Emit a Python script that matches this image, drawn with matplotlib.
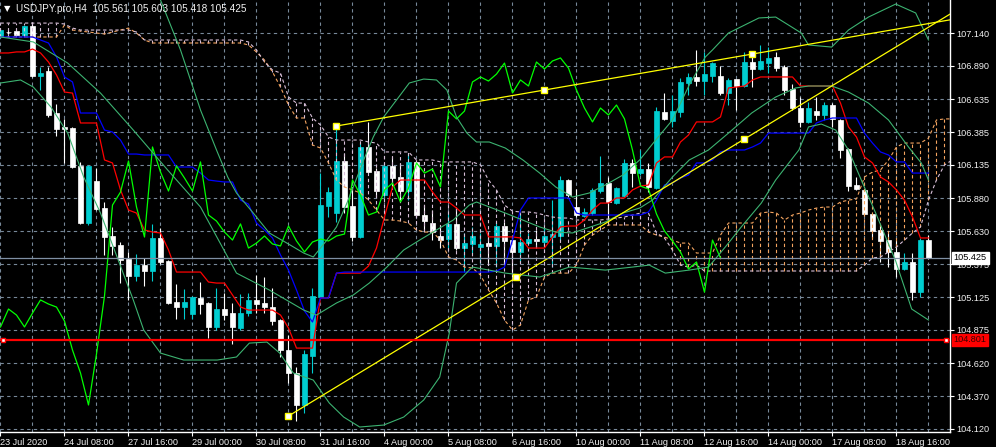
import numpy as np
import matplotlib
matplotlib.use("Agg")
import matplotlib.pyplot as plt
from matplotlib.transforms import blended_transform_factory

HEADER = "USDJPY.pro,H4  105.561 105.603 105.418 105.425"

# H4 candles, bar 0 = 23 Jul 2020 00:00
opens = [
    107.117, 107.148, 107.155, 107.125, 107.193, 106.812, 106.850, 106.530, 106.424, 106.416,
    106.126, 105.691, 106.011, 105.805, 105.592, 105.523, 105.416, 105.286, 105.370, 105.325,
    105.577, 105.401, 105.089, 105.050, 104.997, 105.119, 105.081, 104.898, 105.035, 105.004,
    104.890, 105.004, 105.104, 105.081, 105.050, 104.951, 104.722, 104.547, 104.303, 104.676,
    105.127, 105.820, 105.767, 106.164, 105.820, 105.584, 106.271, 106.088, 105.904, 106.126,
    106.042, 105.935, 106.157, 105.752, 105.691, 105.592, 105.569, 105.684, 105.500, 105.531,
    105.508, 105.538, 105.516, 105.668, 105.561, 105.470, 105.538, 105.569, 105.546, 105.584,
    105.592, 106.019, 105.813, 105.744, 105.767, 105.935, 105.996, 105.843, 105.897, 106.149,
    106.072, 106.103, 105.958, 106.538, 106.469, 106.538, 106.759, 106.805, 106.774, 106.812,
    106.812, 106.683, 106.789, 106.736, 106.919, 106.866, 106.911, 106.957, 106.881, 106.713,
    106.568, 106.462, 106.545, 106.515, 106.591, 106.477, 106.256, 105.981, 105.943, 105.760,
    105.638, 105.561, 105.470, 105.340, 105.394, 105.164, 105.561,
]
highs = [
    107.178, 107.163, 107.171, 107.201, 107.224, 106.881, 106.881, 106.599, 106.485, 106.424,
    106.157, 106.134, 106.111, 105.851, 105.661, 105.546, 105.470, 105.455, 105.424, 105.684,
    105.653, 105.409, 105.225, 105.187, 105.134, 105.241, 105.089, 105.195, 105.157, 105.081,
    105.149, 105.157, 105.294, 105.279, 105.195, 104.959, 104.837, 104.593, 104.722, 105.195,
    106.072, 105.966, 106.424, 106.225, 105.966, 106.301, 106.462, 106.111, 106.149, 106.195,
    106.149, 106.225, 106.172, 105.828, 105.790, 105.661, 105.775, 105.813, 105.615, 105.661,
    105.615, 105.615, 105.699, 105.699, 105.577, 105.767, 105.615, 105.638, 105.661, 105.866,
    106.049, 106.027, 105.950, 105.805, 105.958, 106.202, 106.042, 105.966, 106.179, 106.179,
    106.248, 106.149, 106.576, 106.683, 106.667, 106.797, 106.835, 107.011, 106.995, 106.919,
    106.889, 106.797, 106.789, 106.995, 106.980, 107.049, 107.033, 106.995, 106.896, 106.751,
    106.652, 106.614, 106.652, 106.614, 106.606, 106.485, 106.263, 106.042, 105.950, 105.760,
    105.676, 105.615, 105.561, 105.462, 105.462, 105.577, 105.603,
]
lows = [
    107.102, 107.133, 107.117, 107.120, 106.805, 106.705, 106.500, 106.354, 106.149, 106.111,
    105.684, 105.676, 105.790, 105.447, 105.447, 105.233, 105.104, 105.248, 105.210, 105.248,
    105.378, 105.073, 104.959, 104.959, 104.959, 104.997, 104.814, 104.875, 104.951, 104.767,
    104.875, 104.981, 105.004, 105.004, 104.913, 104.669, 104.470, 104.180, 104.242, 104.547,
    105.119, 105.737, 105.699, 105.767, 105.554, 105.577, 106.072, 105.889, 105.889, 105.966,
    105.866, 105.866, 105.737, 105.638, 105.561, 105.500, 105.500, 105.485, 105.317, 105.462,
    105.386, 105.386, 105.355, 105.386, 105.279, 105.394, 105.523, 105.508, 105.508, 105.355,
    105.561, 105.889, 105.737, 105.737, 105.752, 105.920, 105.699, 105.836, 105.889, 105.966,
    106.057, 105.927, 105.950, 106.477, 106.424, 106.500, 106.667, 106.736, 106.667, 106.767,
    106.667, 106.591, 106.553, 106.728, 106.728, 106.858, 106.835, 106.850, 106.667, 106.553,
    106.424, 106.454, 106.477, 106.477, 106.424, 106.187, 105.935, 105.943, 105.752, 105.577,
    105.394, 105.355, 105.279, 105.332, 105.104, 105.127, 105.418,
]
closes = [
    107.163, 107.148, 107.125, 107.193, 106.812, 106.835, 106.515, 106.408, 106.408, 106.118,
    105.691, 106.126, 105.798, 105.584, 105.516, 105.409, 105.286, 105.370, 105.325, 105.577,
    105.394, 105.081, 105.050, 105.089, 105.127, 105.073, 104.898, 105.035, 104.989, 104.898,
    105.004, 105.104, 105.073, 105.050, 104.943, 104.722, 104.547, 104.303, 104.692, 105.134,
    105.828, 105.927, 106.164, 105.813, 105.584, 106.271, 106.080, 105.935, 106.126, 106.034,
    105.935, 106.157, 105.752, 105.706, 105.622, 105.561, 105.684, 105.500, 105.538, 105.592,
    105.531, 105.516, 105.668, 105.554, 105.470, 105.546, 105.569, 105.554, 105.592, 105.607,
    106.019, 105.904, 105.752, 105.775, 105.943, 105.996, 105.851, 105.958, 106.149, 106.072,
    106.103, 105.966, 106.545, 106.485, 106.545, 106.767, 106.805, 106.774, 106.827, 106.911,
    106.683, 106.782, 106.736, 106.919, 106.866, 106.927, 106.950, 106.873, 106.705, 106.568,
    106.462, 106.568, 106.515, 106.591, 106.485, 106.248, 105.973, 105.950, 105.760, 105.630,
    105.554, 105.470, 105.340, 105.394, 105.164, 105.561, 105.425,
]

# Ichimoku, read per bar
tenkan = [
    106.988, 106.988, 106.996, 106.996, 107.018, 106.988, 106.919, 106.820, 106.690, 106.682,
    106.454, 106.454, 106.454, 106.172, 106.149, 105.943, 105.790, 105.767, 105.638, 105.622,
    105.615, 105.485, 105.317, 105.317, 105.317, 105.317, 105.241, 105.233, 105.233, 105.142,
    105.051, 105.027, 105.027, 105.027, 105.027, 104.989, 104.890, 104.737, 104.737, 104.737,
    105.119, 105.119, 105.309, 105.309, 105.309, 105.309, 105.363, 105.500, 105.737, 105.966,
    106.019, 106.019, 106.019, 106.019, 105.928, 105.851, 105.851, 105.805, 105.752, 105.752,
    105.752, 105.585, 105.585, 105.585, 105.585, 105.577, 105.500, 105.500, 105.500, 105.585,
    105.661, 105.668, 105.668, 105.714, 105.790, 105.843, 105.843, 105.882, 105.882, 105.943,
    105.973, 105.981, 106.149, 106.195, 106.195, 106.309, 106.362, 106.462, 106.462, 106.462,
    106.500, 106.721, 106.728, 106.736, 106.782, 106.805, 106.805, 106.805, 106.805, 106.805,
    106.736, 106.736, 106.736, 106.736, 106.736, 106.606, 106.424, 106.347, 106.195, 106.149,
    106.042, 106.004, 105.943, 105.866, 105.737, 105.577, 105.577,
]
kijun = [
    107.110, 107.110, 107.110, 107.110, 107.110, 107.087, 107.064, 106.958, 106.805, 106.767,
    106.530, 106.530, 106.530, 106.400, 106.385, 106.324, 106.217, 106.217, 106.210, 106.210,
    106.210, 106.210, 106.118, 106.118, 106.118, 106.072, 106.019, 106.011, 106.004, 106.004,
    105.866, 105.835, 105.691, 105.638, 105.577, 105.447, 105.332, 105.180, 105.020, 104.936,
    105.119, 105.119, 105.309, 105.317, 105.317, 105.317, 105.317, 105.317, 105.317, 105.317,
    105.317, 105.317, 105.317, 105.317, 105.317, 105.317, 105.317, 105.317, 105.317, 105.317,
    105.317, 105.317, 105.324, 105.355, 105.561, 105.790, 105.882, 105.882, 105.882, 105.882,
    105.882, 105.882, 105.767, 105.752, 105.752, 105.752, 105.752, 105.752, 105.752, 105.752,
    105.752, 105.775, 105.866, 105.981, 105.996, 106.034, 106.057, 106.149, 106.149, 106.172,
    106.233, 106.248, 106.248, 106.248, 106.271, 106.301, 106.377, 106.377, 106.377, 106.377,
    106.377, 106.377, 106.454, 106.477, 106.492, 106.492, 106.492, 106.492, 106.377, 106.301,
    106.233, 106.210, 106.157, 106.157, 106.072, 106.072, 106.072,
]
senkou_a = [
    107.110, 107.110, 107.110, 107.110, 107.110, 107.110, 107.110, 107.110, 107.201, 107.163,
    107.155, 107.148, 107.140, 107.133, 107.148, 107.163, 107.178, 107.140, 107.087, 107.064,
    107.064, 107.064, 107.064, 107.064, 107.064, 107.064, 107.064, 107.064, 107.064, 107.064,
    107.064, 107.049, 106.995, 106.934, 106.843, 106.728, 106.591, 106.492, 106.492, 106.286,
    106.263, 106.149, 106.019, 105.966, 105.943, 105.920, 105.866, 105.790, 105.714, 105.714,
    105.706, 105.691, 105.638, 105.622, 105.622, 105.561, 105.432, 105.409, 105.355, 105.348,
    105.294, 105.180, 105.081, 104.951, 104.875, 104.913, 105.104, 105.127, 105.279, 105.309,
    105.309, 105.309, 105.370, 105.523, 105.599, 105.638, 105.676, 105.676, 105.676, 105.676,
    105.676, 105.622, 105.599, 105.584, 105.561, 105.538, 105.538, 105.462, 105.462, 105.462,
    105.599, 105.691, 105.691, 105.691, 105.691, 105.767, 105.775, 105.767, 105.714, 105.752,
    105.767, 105.790, 105.805, 105.813, 105.813, 105.851, 105.866, 105.874, 106.042, 106.080,
    106.095, 106.172, 106.271, 106.301, 106.301, 106.301, 106.339, 106.477, 106.485, 106.485,
]
senkou_b = [
    107.216, 107.216, 107.216, 107.216, 107.216, 107.216, 107.216, 107.216, 107.209, 107.178,
    107.163, 107.163, 107.163, 107.163, 107.163, 107.163, 107.163, 107.148, 107.087, 107.087,
    107.087, 107.087, 107.087, 107.087, 107.087, 107.087, 107.087, 107.087, 107.087, 107.087,
    107.087, 107.072, 107.011, 106.919, 106.858, 106.835, 106.652, 106.606, 106.606, 106.492,
    106.439, 106.347, 106.324, 106.324, 106.324, 106.324, 106.309, 106.301, 106.233, 106.233,
    106.233, 106.233, 106.172, 106.172, 106.172, 106.157, 106.157, 106.157, 106.157, 106.157,
    106.134, 106.019, 105.943, 105.828, 105.782, 105.775, 105.775, 105.767, 105.752, 105.737,
    105.729, 105.729, 105.714, 105.714, 105.714, 105.714, 105.722, 105.729, 105.737, 105.752,
    105.767, 105.767, 105.615, 105.577, 105.485, 105.370, 105.355, 105.370, 105.325, 105.325,
    105.325, 105.325, 105.325, 105.325, 105.325, 105.325, 105.325, 105.325, 105.325, 105.325,
    105.325, 105.325, 105.325, 105.325, 105.325, 105.325, 105.325, 105.325, 105.370, 105.424,
    105.432, 105.470, 105.508, 105.561, 105.615, 105.661, 105.866, 106.019, 106.134, 106.172,
]
CHIKOU_SHIFT = 26

# Bollinger bands, read at knots (bar, price)
bb_upper_bar = [19, 20, 22.5, 25, 27, 28.4, 29.5, 31.6, 33.6, 35.8, 37.9, 39.1, 40.8, 42, 43.3, 44.1,
                45.4, 46.6, 47.9, 49.5, 51.1, 52.9, 54.5, 55.8, 57, 58.3, 59.5, 61.1, 63.1, 65.3,
                67.4, 69.4, 71.5, 73.6, 75.6, 77.8, 79.9, 81.9, 84, 86.1, 88.1, 89, 91, 94.8, 96.9,
                98.9, 100.1, 101, 103.9, 106, 108.5, 111.9, 114.4, 116]
bb_upper = [107.583, 107.392, 107.011, 106.553, 106.248, 106.042, 105.920, 105.767, 105.615, 105.538,
            105.462, 105.432, 105.561, 105.661, 105.843, 105.966, 106.172, 106.347, 106.500, 106.629,
            106.759, 106.789, 106.782, 106.705, 106.500, 106.377, 106.309, 106.309, 106.263, 106.172,
            106.072, 105.966, 105.889, 105.920, 105.981, 106.057, 106.172, 106.324, 106.477, 106.744,
            106.957, 107.011, 107.140, 107.255, 107.262, 107.186, 107.140, 107.049, 107.033, 107.163,
            107.262, 107.361, 107.293, 107.087]
bb_mid_bar = [0, 4.1, 8.4, 12.5, 16.6, 20.9, 25, 29.5, 33.6, 37.9, 39.5, 42, 44.1, 46.1, 48.3, 50.4,
              52.4, 54.5, 56.6, 58.6, 59.5, 63.1, 67.4, 69.4, 71.5, 75.6, 77.8, 79.9, 81.5, 84, 86.1,
              88.5, 91, 93.9, 96.9, 99.4, 101, 103.9, 106, 108.5, 111, 113.5, 115.1, 116]
bb_mid = [107.110, 107.072, 106.911, 106.682, 106.400, 106.095, 105.813, 105.309, 105.180, 105.027,
          104.989, 105.081, 105.142, 105.233, 105.355, 105.485, 105.561, 105.638, 105.714, 105.828,
          105.851, 105.767, 105.661, 105.622, 105.615, 105.699, 105.767, 105.805, 105.866, 106.042,
          106.172, 106.248, 106.377, 106.530, 106.652, 106.721, 106.736, 106.736, 106.690, 106.606,
          106.477, 106.271, 106.149, 106.019]
bb_lower_bar = [0, 2.5, 4.1, 6.3, 8.4, 10.4, 12.5, 16.6, 17.9, 20, 22.9, 27.1, 29.5, 31.1, 33.3, 34.9,
                36.6, 39.1, 41.1, 42.9, 44.9, 47.9, 50.4, 52.9, 54.9, 56.1, 57, 58.6, 59, 63.1, 67.4,
                71.1, 75.6, 79, 81.1, 83.1, 86.1, 88.5, 90.6, 92.6, 95.1, 96.9, 99.8, 101, 102.6,
                104.4, 106, 107.6, 109.4, 111.9, 113.9, 116]
bb_lower = [106.759, 106.782, 106.728, 106.576, 106.377, 106.042, 105.767, 105.104, 104.875, 104.699,
            104.646, 104.646, 104.669, 104.775, 104.783, 104.699, 104.547, 104.493, 104.318, 104.211,
            104.135, 104.150, 104.211, 104.341, 104.516, 104.852, 105.233, 105.332, 105.355, 105.309,
            105.279, 105.355, 105.332, 105.355, 105.370, 105.309, 105.332, 105.355, 105.508, 105.661,
            105.843, 106.019, 106.248, 106.424, 106.446, 106.400, 106.248, 106.019, 105.767, 105.401,
            105.035, 104.951]

# trend lines: two anchors each (bar, price)
trend_lines = [
    ((36, 104.219), (93, 106.332)),
    ((42, 106.431), (94, 106.980)),
]
hline_price = 104.801
bid_price = 105.425

price_ticks = [107.140, 106.890, 106.635, 106.385, 106.135, 105.880, 105.630, 105.375,
               105.125, 104.875, 104.620, 104.370, 104.120]
date_ticks = list(range(0, 113, 8))
date_labels = ["23 Jul 2020", "24 Jul 08:00", "27 Jul 16:00", "29 Jul 00:00", "30 Jul 08:00",
               "31 Jul 16:00", "4 Aug 00:00", "5 Aug 08:00", "6 Aug 16:00", "10 Aug 00:00",
               "11 Aug 08:00", "12 Aug 16:00", "14 Aug 00:00", "17 Aug 08:00", "18 Aug 16:00"]

COL = {
    "bg": "#000000",
    "fg": "#F2F2F2",
    "grid": "#778899",
    "bull": "#00CED1",
    "bear": "#FFFFFF",
    "tenkan": "#FF0000",
    "kijun": "#0000FF",
    "chikou": "#00FF00",
    "up_kumo": "#F4A460",
    "dn_kumo": "#D8BFD8",
    "bb": "#3CB371",
    "trend": "#FFFF00",
    "hline": "#FF0000",
    "bid": "#7F8FA3",
}

X_MIN, X_MAX = -0.0625, 118.69
Y_MIN, Y_MAX = 104.097, 107.392


def draw_candles(ax):
    o, h, l, c = (np.array(a) for a in (opens, highs, lows, closes))
    x = np.arange(len(o))
    colors = np.where(c > o, COL["bull"], COL["bear"])
    ax.vlines(x, l, h, colors=colors, lw=0.8, zorder=2)
    ax.bar(x, np.abs(c - o), bottom=np.minimum(o, c), width=0.62, color=colors,
           edgecolor=colors, linewidth=0.5, zorder=2)


def draw_ichimoku(ax):
    a = np.array(senkou_a)
    b = np.array(senkou_b)
    kx = np.arange(len(a))
    dash = (0, (3, 2.5))
    hatch_cols = np.where(a >= b, COL["up_kumo"], COL["dn_kumo"])
    ax.vlines(kx, np.minimum(a, b), np.maximum(a, b), colors=hatch_cols,
              linestyles=dash, lw=0.8, zorder=3)
    ax.plot(kx, a, color=COL["up_kumo"], ls=dash, lw=0.8, zorder=3)
    ax.plot(kx, b, color=COL["dn_kumo"], ls=dash, lw=0.8, zorder=3)

    x = np.arange(len(tenkan))
    ax.plot(x, tenkan, color=COL["tenkan"], lw=0.9, zorder=4)
    ax.plot(x, kijun, color=COL["kijun"], lw=0.9, zorder=4)
    ax.plot(x[:-CHIKOU_SHIFT], closes[CHIKOU_SHIFT:], color=COL["chikou"], lw=0.9, zorder=4)


def draw_bands(ax):
    for bx, by in ((bb_upper_bar, bb_upper), (bb_mid_bar, bb_mid), (bb_lower_bar, bb_lower)):
        ax.plot(bx, by, color=COL["bb"], lw=0.8, zorder=4)


def draw_objects(ax):
    for (b0, p0), (b1, p1) in trend_lines:
        slope = (p1 - p0) / (b1 - b0)
        ax.plot([b0, X_MAX + 2], [p0, p0 + slope * (X_MAX + 2 - b0)],
                color=COL["trend"], lw=0.9, zorder=5)
        ax.plot([b0, (b0 + b1) / 2, b1], [p0, (p0 + p1) / 2, p1], ls="none", marker="s",
                ms=4, mfc="white", mec=COL["trend"], mew=1.0, zorder=6)

    ax.axhline(bid_price, color=COL["bid"], lw=0.9, zorder=5)
    ax.axhline(hline_price, color=COL["hline"], lw=1.6, zorder=5)
    ax.plot([0.35, X_MAX - 0.45], [hline_price, hline_price], ls="none", marker="s", ms=3.5,
            mfc="white", mec=COL["hline"], mew=1.0, zorder=6, clip_on=False)

    trans = blended_transform_factory(ax.transAxes, ax.transData)
    ax.text(1.004, bid_price, f"{bid_price:.3f}", transform=trans, ha="left", va="center",
            fontsize=6.6, color="black", clip_on=False, zorder=10,
            bbox=dict(boxstyle="square,pad=0.18", fc="white", ec="white"))
    ax.text(1.004, hline_price, f"{hline_price:.3f}", transform=trans, ha="left", va="center",
            fontsize=6.6, color="#3A0000", clip_on=False, zorder=10,
            bbox=dict(boxstyle="square,pad=0.18", fc=COL["hline"], ec=COL["hline"]))


def style_axes(ax):
    ax.set_facecolor(COL["bg"])
    ax.set_xlim(X_MIN, X_MAX)
    ax.set_ylim(Y_MIN, Y_MAX)
    for side in ("top", "left"):
        ax.spines[side].set_visible(False)
    for side in ("bottom", "right"):
        ax.spines[side].set_color("white")
        ax.spines[side].set_linewidth(1.0)

    ax.yaxis.tick_right()
    ax.set_yticks(price_ticks)
    ax.set_yticklabels([f"{p:.3f}" for p in price_ticks])
    ax.set_xticks(date_ticks)
    ax.set_xticklabels(date_labels)
    ax.set_xticks(np.arange(4, 117, 8), minor=True)
    for lab in ax.get_xticklabels():
        lab.set_horizontalalignment("left")
    ax.tick_params(axis="both", which="major", colors="white", labelcolor=COL["fg"],
                   labelsize=6.6, length=3, width=0.8, pad=1.5)
    ax.tick_params(axis="x", which="minor", length=0)

    grid_kw = dict(color=COL["grid"], lw=0.8, ls=(0, (3, 3)))
    ax.grid(axis="x", which="both", **grid_kw)
    ax.grid(axis="y", which="major", **grid_kw)
    ax.set_axisbelow(True)


def main():
    plt.rcParams["font.family"] = ["Liberation Sans", "DejaVu Sans"]
    fig = plt.figure(figsize=(9.96, 4.47), dpi=100, facecolor=COL["bg"])
    ax = fig.add_axes([0, 15 / 447, 950 / 996, 432 / 447])
    style_axes(ax)
    draw_candles(ax)
    draw_ichimoku(ax)
    draw_bands(ax)
    draw_objects(ax)

    fig.text(4 / 996, 1 - 9 / 447, "\u25BC", color="white", fontsize=6,
             family=["DejaVu Sans"], va="center", ha="left")
    fig.text(16 / 996, 1 - 9 / 447, HEADER, color=COL["fg"], fontsize=7.2,
             va="center", ha="left")
    fig.savefig("out.png", dpi=100, facecolor=COL["bg"])


if __name__ == "__main__":
    main()
